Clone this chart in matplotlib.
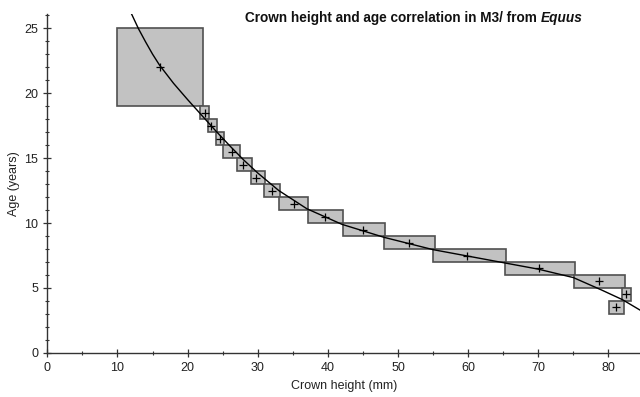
import matplotlib
matplotlib.use("Agg")
import matplotlib.pyplot as plt
from matplotlib.patches import Rectangle
from matplotlib.ticker import MultipleLocator

plt.rcParams['font.family'] = ['Liberation Sans', 'DejaVu Sans']

# Range boxes (crown height range per age class)
age_low = [19, 18, 17, 16, 15, 14, 13, 12, 11, 10, 9, 8, 7, 6, 5, 4, 3]
age_high = [25, 19, 18, 17, 16, 15, 14, 13, 12, 11, 10, 9, 8, 7, 6, 5, 4]
ch_min = [10.0, 21.8, 22.9, 24.0, 25.1, 27.1, 29.0, 30.9, 33.0, 37.1, 42.1, 48.0, 55.0, 65.2, 75.1, 82.0, 80.1]
ch_max = [22.2, 23.1, 24.2, 25.2, 27.4, 29.2, 31.1, 33.2, 37.2, 42.2, 48.2, 55.2, 65.4, 75.3, 82.3, 83.2, 82.2]

# Mean points
pt_x = [16.0, 22.5, 23.4, 24.6, 26.3, 27.9, 29.8, 32.0, 35.1, 39.6, 45.0, 51.6, 59.9, 70.1, 78.6, 82.5, 81.1]
pt_y = [22.0, 18.5, 17.5, 16.5, 15.5, 14.5, 13.5, 12.5, 11.5, 10.5, 9.5, 8.5, 7.5, 6.5, 5.5, 4.5, 3.5]

# Fitted curve
curve_x = [12, 13, 14, 15, 16, 18, 20, 22, 24, 26, 28, 30, 33, 37, 42, 48, 55, 65, 70, 75, 79, 82, 84.5]
curve_y = [26.1, 24.95, 23.95, 23.0, 22.15, 20.75, 19.5, 18.3, 17.1, 15.95, 14.85, 13.85, 12.5, 11.1,
           9.9, 8.9, 7.95, 6.95, 6.45, 5.8, 4.85, 4.1, 3.3]

fig = plt.figure(figsize=(6.4, 3.97), dpi=100)
ax = fig.add_axes([0.074, 0.111, 0.926, 0.854])

for x0, x1, y0, y1 in zip(ch_min, ch_max, age_low, age_high):
    ax.add_patch(Rectangle((x0, y0), x1 - x0, y1 - y0, facecolor='#c2c2c2',
                           edgecolor='#505050', linewidth=1.2, zorder=2))

ax.plot(pt_x, pt_y, linestyle='none', marker='+', color='black', markersize=5.5,
        markeredgewidth=0.9, zorder=3)
ax.plot(curve_x, curve_y, color='black', linewidth=1.0, zorder=4, clip_on=True)

ax.set_xlim(0, 84.5)
ax.set_ylim(0, 26.1)
ax.xaxis.set_major_locator(MultipleLocator(10))
ax.xaxis.set_minor_locator(MultipleLocator(5))
ax.yaxis.set_major_locator(MultipleLocator(5))
ax.yaxis.set_minor_locator(MultipleLocator(1))

for s in ['top', 'right']:
    ax.spines[s].set_visible(False)
for s in ['left', 'bottom']:
    ax.spines[s].set_color('#333333')
    ax.spines[s].set_linewidth(1.0)

ax.tick_params(which='major', direction='inout', length=6, width=0.9, colors='#333333',
               labelsize=9, labelcolor='#222222')
ax.tick_params(which='minor', direction='inout', length=3.5, width=0.8, colors='#333333')

ax.set_xlabel('Crown height (mm)', fontsize=9, color='#222222', labelpad=4)
ax.set_ylabel('Age (years)', fontsize=9, color='#222222', labelpad=3)

t1 = fig.text(0.383, 0.945, 'Crown height and age correlation in M3/ from ',
              fontsize=9.8, fontweight='bold', color='#111111', va='baseline', ha='left')
ax.annotate('Equus', xy=(1, 0), xycoords=t1, va='bottom', ha='left',
            fontsize=9.8, fontweight='bold', fontstyle='italic', color='#111111',
            annotation_clip=False)

fig.savefig('out.png', dpi=100)
